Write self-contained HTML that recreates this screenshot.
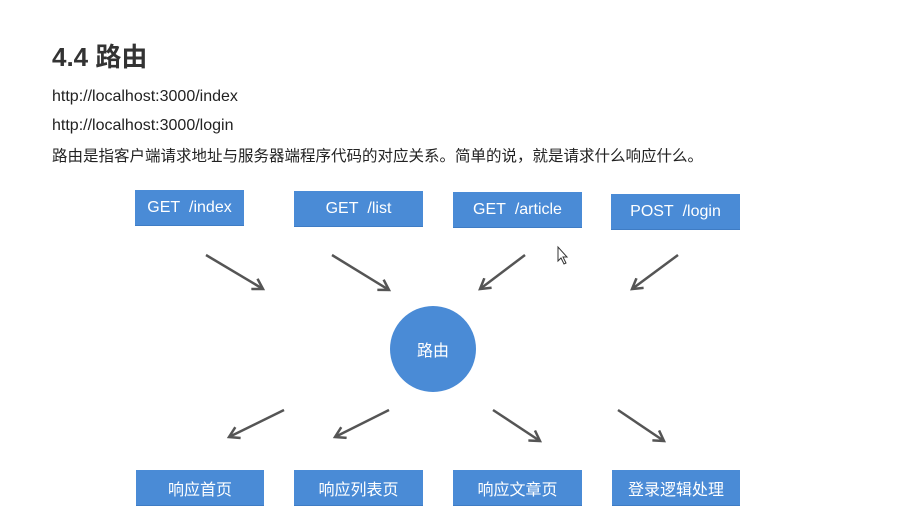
<!DOCTYPE html>
<html><head><meta charset="utf-8"><style>
body{margin:0;width:909px;height:522px;background:#fff;position:relative;overflow:hidden;font-family:"Liberation Sans","Noto Sans CJK SC",sans-serif;color:#222}
.t{position:absolute;white-space:nowrap}
.b{position:absolute;background:#4a8bd6;color:#fff;font-size:16px;display:flex;align-items:center;justify-content:center;height:35px;width:129px;border-bottom:1px solid #3f7cc4}
</style></head><body>
<div class="t" style="left:52px;top:37px;font-size:26px;font-weight:bold;color:#333">4.4 路由</div>
<div class="t" style="left:52px;top:88px;font-size:16px">http://localhost:3000/index</div>
<div class="t" style="left:52px;top:117px;font-size:16px">http://localhost:3000/login</div>
<div class="t" style="left:52px;top:144px;font-size:15.5px">路由是指客户端请求地址与服务器端程序代码的对应关系。简单的说，就是请求什么响应什么。</div>
<div class="b" style="left:135px;top:190px;width:109px">GET&nbsp; /index</div>
<div class="b" style="left:294px;top:191px">GET&nbsp; /list</div>
<div class="b" style="left:453px;top:192px">GET&nbsp; /article</div>
<div class="b" style="left:611px;top:194px">POST&nbsp; /login</div>
<div class="b" style="left:136px;top:470px;width:128px">响应首页</div>
<div class="b" style="left:294px;top:470px">响应列表页</div>
<div class="b" style="left:453px;top:470px">响应文章页</div>
<div class="b" style="left:612px;top:470px;width:128px">登录逻辑处理</div>
<div style="position:absolute;left:390px;top:306px;width:86px;height:86px;border-radius:50%;background:#4a8bd6;color:#fff;font-size:16px;display:flex;align-items:center;justify-content:center">路由</div>
<svg width="909" height="522" style="position:absolute;left:0;top:0">
<defs><marker id="a" markerWidth="14" markerHeight="14" refX="11" refY="7" orient="auto" markerUnits="userSpaceOnUse"><path d="M1,1 L11,7 L1,13" fill="none" stroke="#555" stroke-width="2.5"/></marker></defs>
<g stroke="#555" stroke-width="2.5" marker-end="url(#a)">
<line x1="206" y1="255" x2="263" y2="289"/>
<line x1="332" y1="255" x2="389" y2="290"/>
<line x1="525" y1="255" x2="480" y2="289"/>
<line x1="678" y1="255" x2="632" y2="289"/>
<line x1="284" y1="410" x2="229" y2="437"/>
<line x1="389" y1="410" x2="335" y2="437"/>
<line x1="493" y1="410" x2="540" y2="441"/>
<line x1="618" y1="410" x2="664" y2="441"/>
</g>
<path d="M558,247 L558,261 L561,258 L564,264 L566,263 L563,257 L567,257 Z" fill="#fff" stroke="#333" stroke-width="1"/>
</svg>
</body></html>
